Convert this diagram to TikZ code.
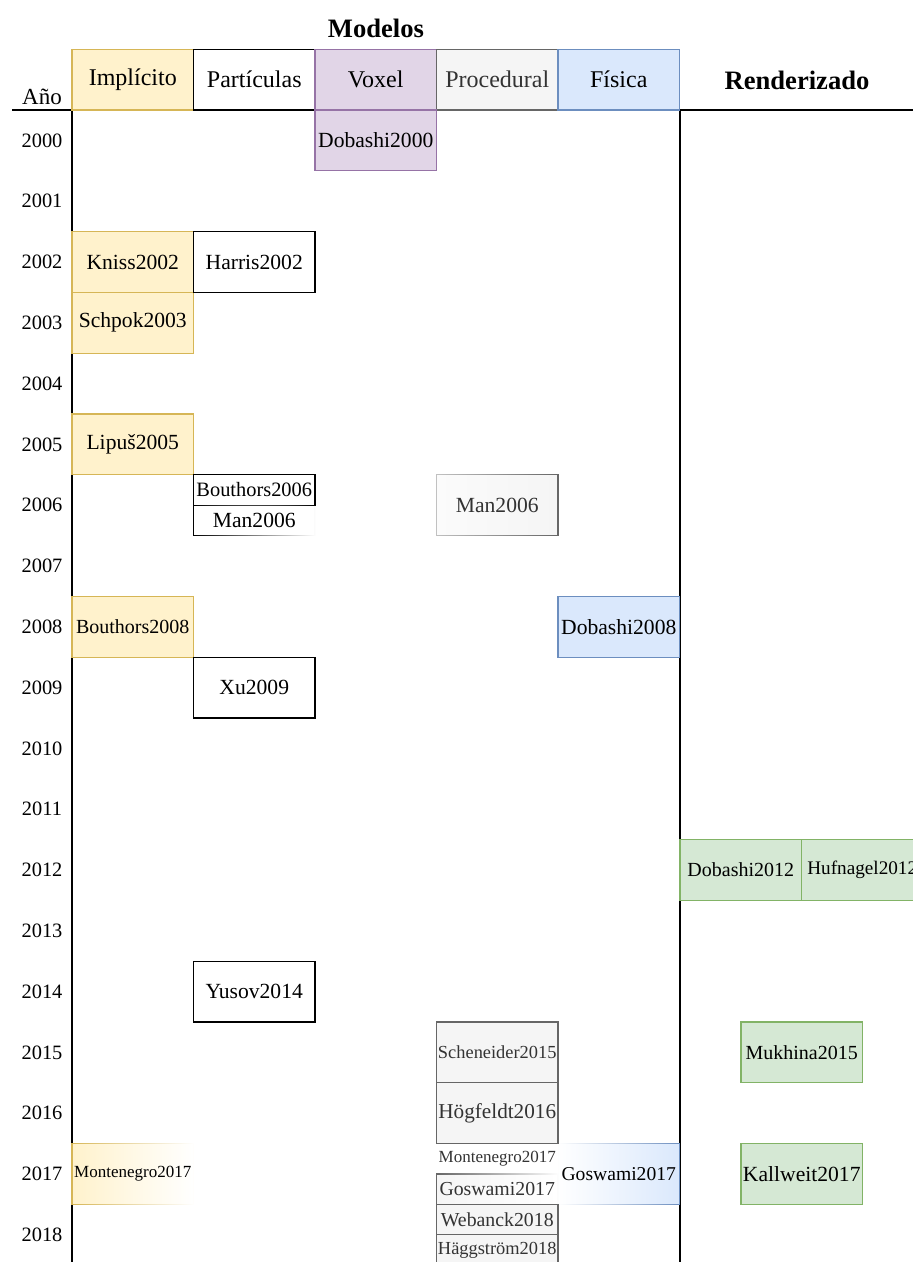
\documentclass[tikz,border=0pt]{standalone}
\usepackage{fontspec}
\setmainfont{Liberation Serif}
\usetikzlibrary{fadings}
\definecolor{impfill}{HTML}{FFF2CC}
\definecolor{impline}{HTML}{D6B656}
\definecolor{voxfill}{HTML}{E1D5E7}
\definecolor{voxline}{HTML}{9673A6}
\definecolor{profill}{HTML}{F5F5F5}
\definecolor{proline}{HTML}{666666}
\definecolor{protext}{HTML}{333333}
\definecolor{fisfill}{HTML}{DAE8FC}
\definecolor{fisline}{HTML}{6C8EBF}
\definecolor{renfill}{HTML}{D5E8D4}
\definecolor{renline}{HTML}{82B366}
\tikzfading[name=fade east, left color=transparent!0, middle color=transparent!0, right color=transparent!100]
\tikzfading[name=fade west, left color=transparent!100, right color=transparent!0]
\tikzfading[name=fade west soft, left color=transparent!60, right color=transparent!0]
\tikzset{>=stealth,
  cell/.style={draw, anchor=north west, minimum width=60.75pt, minimum height=30.4pt,
    inner sep=0pt, outer sep=0pt, line width=0.6pt, font=\fontsize{10.8}{12}\selectfont},
  half/.style={cell, minimum height=15.2pt},
  imp/.style={fill=impfill, draw=impline},
  par/.style={fill=white, draw=black},
  vox/.style={fill=voxfill, draw=voxline},
  pro/.style={fill=profill, draw=proline, text=protext},
  fis/.style={fill=fisfill, draw=fisline},
  ren/.style={fill=renfill, draw=renline},
  head/.style={cell, font=\fontsize{12}{14}\selectfont},
  title/.style={font=\fontsize{13.3}{15}\selectfont\bfseries},
}

\begin{document}
\begin{tikzpicture}[x=0.5pt, y=-0.5pt]
\useasboundingbox (0,0) rectangle (913,1262);
% ejes
\coordinate (axisL) at (12,110);
\coordinate (axisR) at (913,110);
\coordinate (modTop) at (72,110);
\coordinate (modBot) at (72,1262);
\coordinate (renTop) at (680,110);
\coordinate (renBot) at (680,1262);
\draw[line width=0.7pt] (axisL) -- (axisR);
\draw[line width=0.7pt] (modTop) -- (modBot);
\draw[line width=0.7pt] (renTop) -- (renBot);

% titulos
\node[title] (modelos) at (376,28) {Modelos};
\node[title] (render) at (797,80) {Renderizado};
\node[font=\fontsize{11.5}{13}\selectfont] (anio) at (42,97) {Año};
\node[head, imp] (hImp) at (72,49.2) {Implícito};
\node[head, par] (hPar) at (193.5,49.2) {Partículas};
\node[head, vox] (hVox) at (315,49.2) {Voxel};
\node[head, pro] (hPro) at (436.5,49.2) {Procedural};
\node[head, fis] (hFis) at (558,49.2) {Física};

% años
\foreach \y [count=\i from 0] in {2000,...,2018}
  \node[font=\fontsize{10.2}{12}\selectfont] (y\y) at (42,{140.4+60.8*\i}) {\y};

% Implicito
\node[cell, imp] (kniss02) at (72,231.6) {Kniss2002};
\node[cell, imp] (schpok03) at (72,292.4) {Schpok2003};
\node[cell, imp] (lipus05) at (72,414) {Lipuš2005};
\node[cell, imp, font=\fontsize{10}{12}\selectfont] (bouthors08) at (72,596.4) {Bouthors2008};
\node[cell, imp, path fading=fade east, font=\fontsize{8.5}{10}\selectfont] (monte17i) at (72,1143.6) {Montenegro2017};

% Particulas
\node[cell, par] (harris02) at (193.5,231.6) {Harris2002};
\node[half, par, font=\fontsize{10.2}{12}\selectfont] (bouthors06) at (193.5,474.8) {Bouthors2006};
\node[half, par, path fading=fade east] (man06p) at (193.5,505.2) {Man2006};
\node[cell, par] (xu09) at (193.5,657.2) {Xu2009};
\node[cell, par] (yusov14) at (193.5,961.2) {Yusov2014};

% Voxel
\node[cell, vox] (dobashi00) at (315,110) {Dobashi2000};

% Procedural
\node[cell, pro, path fading=fade west soft] (man06) at (436.5,474.8) {Man2006};
\node[cell, pro, font=\fontsize{9.2}{11}\selectfont] (schneider15) at (436.5,1022) {Scheneider2015};
\node[cell, pro, font=\fontsize{10.6}{12}\selectfont] (hog16) at (436.5,1082.8) {Högfeldt2016};
\node[half, pro, draw=none, fill=none, font=\fontsize{8.5}{10}\selectfont] (monte17p) at (436.5,1143.6) {Montenegro2017};
\node[half, pro, path fading=fade east, font=\fontsize{9.9}{11}\selectfont] (goswami17p) at (436.5,1174) {Goswami2017};
\node[half, pro, font=\fontsize{9.9}{11}\selectfont] (webanck18) at (436.5,1204.4) {Webanck2018};
\node[half, pro, font=\fontsize{9.2}{11}\selectfont] (hagg18) at (436.5,1234.8) {Häggström2018};

% Fisica
\node[cell, fis] (dobashi08) at (558,596.4) {Dobashi2008};
\node[cell, fis, path fading=fade west, font=\fontsize{9.8}{11}\selectfont] (goswami17) at (558,1143.6) {Goswami2017};

% Renderizado
\node[cell, ren, font=\fontsize{10}{12}\selectfont] (dobashi12) at (680,839.6) {Dobashi2012};
\node[cell, ren, font=\fontsize{9.6}{12}\selectfont] (hufnagel12) at (801.5,839.6) {Hufnagel2012};
\node[cell, ren, font=\fontsize{10}{12}\selectfont] (mukhina15) at (741,1022) {Mukhina2015};
\node[cell, ren] (kallweit17) at (741,1143.6) {Kallweit2017};
\end{tikzpicture}
\end{document}
